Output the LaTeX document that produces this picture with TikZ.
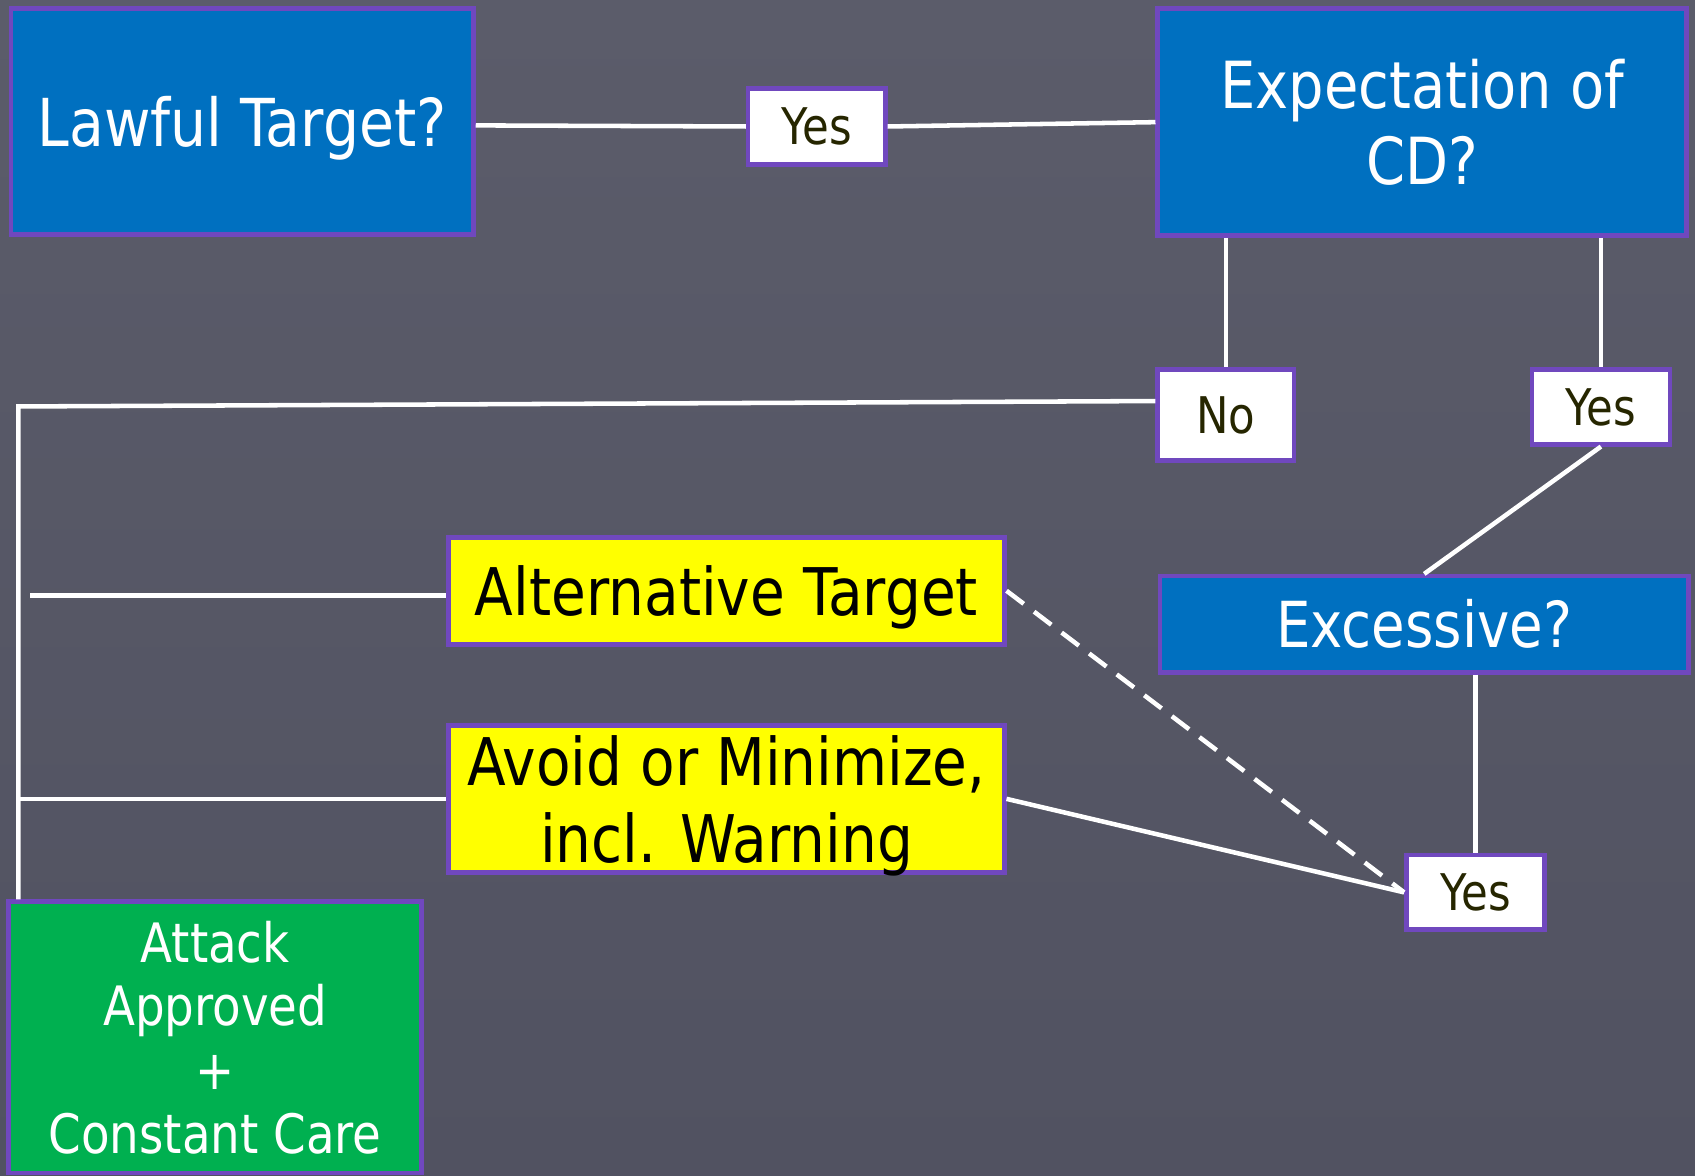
\documentclass[tikz,border=0pt]{standalone}
\usepackage{fontspec}
\setmainfont{DejaVu Sans}[FakeStretch=0.86]
\usetikzlibrary{calc}
\definecolor{bgtop}{RGB}{91,92,106}
\definecolor{bgbot}{RGB}{81,82,97}
\definecolor{boxblue}{RGB}{0,112,192}
\definecolor{boxgreen}{RGB}{0,176,80}
\definecolor{boxyellow}{RGB}{255,255,0}
\definecolor{rim}{RGB}{112,72,190}
\definecolor{labeltext}{RGB}{38,38,0}
\tikzset{
  basebox/.style={draw=rim, line width=0.42mm, inner sep=0pt, align=center},
  bluebox/.style={basebox, fill=boxblue, text=white, font=\fontsize{17.4pt}{19.9pt}\selectfont},
  yellowbox/.style={basebox, fill=boxyellow, text=black, font=\fontsize{17.3pt}{20.2pt}\selectfont, text depth=0pt},
  greenbox/.style={basebox, fill=boxgreen, text=white, font=\fontsize{14.3pt}{16.8pt}\selectfont},
  labelbox/.style={basebox, fill=white, text=labeltext, font=\fontsize{13.3pt}{15pt}\selectfont},
  link/.style={draw=white, line width=0.42mm},
  dashlink/.style={link, dash pattern=on 2mm off 1.2mm}
}
\begin{document}
\begin{tikzpicture}[x=0.1mm, y=-0.1mm]
\useasboundingbox (0,0) rectangle (1568,1087);
\clip (0,0) rectangle (1568,1087);
\shade[top color=bgtop, bottom color=bgbot] (0,0) rectangle (1568,1087);

% boxes
\node[bluebox, text depth=0pt, minimum width=42.8mm, minimum height=20.9mm] (lawful) at (224,112.5) {Lawful Target?};
\node[labelbox, minimum width=12.7mm, minimum height=7.0mm] (yes1) at (755.5,117) {Yes};
\node[bluebox, font=\fontsize{17.1pt}{19.9pt}\selectfont, minimum width=48.9mm, minimum height=21.0mm] (expect) at (1315.5,113) {Expectation of\\CD?};
\node[labelbox, minimum width=12.6mm, minimum height=8.4mm] (no) at (1134,384) {No};
\node[labelbox, minimum width=12.8mm, minimum height=6.9mm] (yes2) at (1481,376.5) {Yes};
\node[bluebox, font=\fontsize{16.7pt}{19.9pt}\selectfont, minimum width=48.9mm, minimum height=8.9mm] (excess) at (1317.5,577.5) {Excessive?};
\node[yellowbox, minimum width=51.4mm, minimum height=9.9mm] (alt) at (672,546.5) {Alternative Target};
\node[yellowbox, minimum width=51.4mm, minimum height=13.6mm] (avoid) at (672,739) {Avoid or Minimize,\\incl. Warning};
\node[labelbox, minimum width=12.8mm, minimum height=6.9mm] (yes3) at (1365,825.5) {Yes};
\node[greenbox, minimum width=38.2mm, minimum height=25.1mm, text depth=-0.8pt] (attack) at (199,959.5) {Attack\\Approved\\+\\Constant Care};

% connectors
\coordinate (corner) at (17,376);
\coordinate (altstart) at (28,551);
\coordinate (avstart) at (17,739);
\draw[link] ([yshift=-0.35mm]lawful.east) -- (yes1.west);
\draw[link] (yes1.east) -- (expect.west);
\draw[link] (no.north |- expect.south) -- (no.north);
\draw[link] (yes2.north |- expect.south) -- (yes2.north);
\draw[link] ([yshift=1.3mm]no.west) -- (corner) -- (corner |- attack.north);
\draw[link] (yes2.south) -- (excess.north);
\draw[link] (yes3.north |- excess.south) -- (yes3.north);
\draw[link] (altstart) -- (altstart -| alt.west);
\draw[link] (avstart) -- (avoid.west);
\draw[link] (avoid.east) -- (yes3.west);
\draw[dashlink] (alt.east) -- (yes3.west);
\end{tikzpicture}
\end{document}
